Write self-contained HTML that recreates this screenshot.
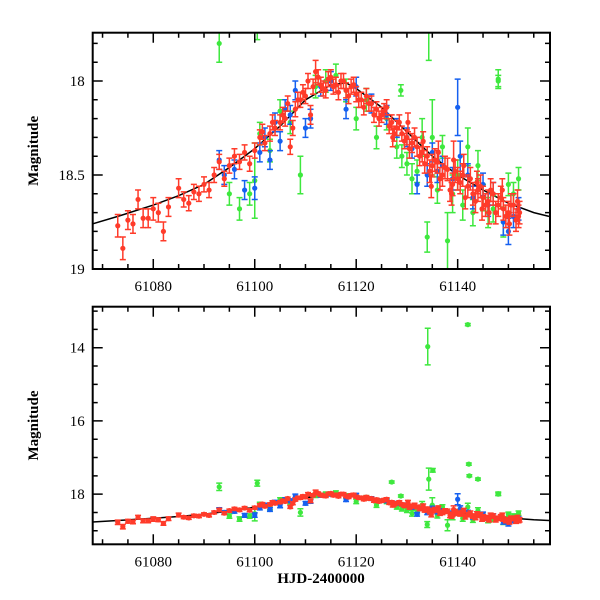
<!DOCTYPE html>
<html><head><meta charset="utf-8"><style>
html,body{margin:0;padding:0;background:#fff;}
svg{display:block;font-family:"Liberation Serif",serif;}
</style></head><body>
<svg id="chart" width="600" height="600" viewBox="0 0 600 600" xmlns="http://www.w3.org/2000/svg"></svg>
<script>
// ---- data ----
const curveT=[61068,61073,61080,61085,61090,61095,61100,61105,61110,61115,61118,61120,61125,61130,61135,61140,61145,61150,61155,61158];
const curveM=[18.76,18.72,18.66,18.61,18.55,18.46,18.36,18.24,18.10,18.02,18.01,18.04,18.14,18.27,18.40,18.50,18.58,18.65,18.70,18.72];
const redT=[61073,61074,61075,61076,61077,61078,61079,61080,61081,61082,61083,61085,61086,61087,61088,61089,61090,61091,61092,61093,61094,61095,61096,61097,61098,61099,61100,61101,61102,61103,61104,61105,61106,61107,61108,61109,61110,61111,61112,61113,61114,61115,61116,61117,61118,61119,61120,61121,61122,61123,61124,61125,61126,61127,61128,61129,61130,61131,61132,61133,61134,61135,61136,61137,61138,61139,61140,61141,61142,61143,61144,61145,61146,61147,61148,61149,61150,61151,61152,
61101.5,61103.5,61105.5,61106.5,61107.5,61108.5,61109.5,61110.5,61111.5,61112.5,61113.5,61114.5,61115.5,61116.5,61117.5,61118.5,61119.5,61120.5,61121.5,61122.5,61123.5,61124.5,61125.5,61126.5,61127.5,61128.5,61129.5,61130.5,61131.5,61132.5,61133.5,61134.5,61135.5,61136.5,61137.5,61138.5,61139.5,61140.5,61141.5,61142.5,61143.5,61144.5,61145.5,61146.5,61147.5,61148.5,61149.5,61150.5,61151.5,61152.2,
61130.2,61133.2,61136.2,61138.8,61141.2,61143.8,61146.2,61148.8,61150.2,61151.8,61144.8,61139.2,61134.8,61127.2];
const redM=[18.77,18.89,18.74,18.76,18.63,18.73,18.73,18.68,18.70,18.80,18.67,18.57,18.63,18.65,18.59,18.60,18.55,18.58,18.50,18.43,18.52,18.45,18.40,18.43,18.38,18.44,18.37,18.30,18.33,18.28,18.25,18.22,18.20,18.35,18.15,18.10,18.08,18.18,17.95,18.02,18.05,17.98,18.02,18.00,18.05,18.03,18.07,18.10,18.08,18.12,18.15,18.18,18.14,18.22,18.25,18.28,18.30,18.33,18.35,18.38,18.40,18.45,18.43,18.50,18.47,18.55,18.52,18.50,18.56,18.60,18.58,18.62,18.64,18.60,18.66,18.68,18.70,18.66,18.72,
18.27,18.22,18.18,18.12,18.25,18.10,18.06,18.00,18.03,17.98,18.04,17.99,18.03,18.06,18.00,18.08,18.02,18.10,18.14,18.12,18.18,18.20,18.16,18.24,18.28,18.22,18.32,18.36,18.30,18.40,18.44,18.48,18.42,18.52,18.46,18.58,18.48,18.54,18.62,18.52,18.64,18.56,18.66,18.58,18.70,18.62,18.72,18.66,18.74,18.70,
18.22,18.32,18.38,18.60,18.45,18.54,18.70,18.58,18.76,18.64,18.68,18.42,18.56,18.30];
const redE=[0.06,0.06,0.05,0.05,0.05,0.05,0.05,0.06,0.05,0.05,0.05,0.05,0.04,0.04,0.04,0.04,0.04,0.04,0.04,0.04,0.04,0.04,0.04,0.04,0.04,0.04,0.04,0.04,0.04,0.04,0.04,0.04,0.04,0.04,0.04,0.04,0.04,0.05,0.06,0.04,0.04,0.04,0.04,0.04,0.04,0.04,0.04,0.04,0.04,0.04,0.04,0.04,0.04,0.04,0.04,0.04,0.04,0.05,0.05,0.05,0.05,0.06,0.06,0.06,0.06,0.06,0.06,0.06,0.06,0.06,0.06,0.06,0.06,0.06,0.06,0.06,0.06,0.06,0.06,
0.04,0.04,0.04,0.04,0.04,0.04,0.04,0.04,0.04,0.04,0.04,0.04,0.04,0.04,0.04,0.04,0.04,0.04,0.04,0.04,0.04,0.04,0.04,0.04,0.04,0.04,0.04,0.05,0.05,0.05,0.05,0.06,0.06,0.06,0.06,0.06,0.06,0.06,0.06,0.06,0.06,0.06,0.06,0.06,0.06,0.06,0.06,0.06,0.06,0.06,
0.05,0.05,0.06,0.06,0.06,0.06,0.06,0.06,0.06,0.06,0.06,0.10,0.06,0.05];
const blueT=[61093,61094,61096,61098,61100,61101,61102,61103,61104,61105,61106,61107,61108,61110,61111,61113,61115,61118,61120,61123,61126,61128,61130,61132,61134,61135,61137,61140,61140.5,61142,61145,61147,61149,61150,61152,
61131,61136,61139,61143,61146,61151];
const blueM=[18.42,18.50,18.47,18.58,18.57,18.38,18.30,18.42,18.22,18.32,18.15,18.18,18.05,18.25,18.20,18.03,18.00,18.15,18.03,18.12,18.18,18.25,18.30,18.55,18.50,18.38,18.45,18.14,18.40,18.50,18.55,18.60,18.75,18.80,18.68,
18.36,18.48,18.52,18.62,18.66,18.72];
const blueE=[0.05,0.05,0.05,0.05,0.06,0.05,0.05,0.05,0.05,0.05,0.05,0.05,0.05,0.05,0.05,0.05,0.05,0.05,0.05,0.05,0.05,0.05,0.05,0.05,0.06,0.05,0.05,0.15,0.08,0.06,0.06,0.06,0.07,0.07,0.06,
0.05,0.06,0.06,0.06,0.06,0.06];
const greenT=[61093,61095,61097,61099,61100,61101,61103,61105,61107,61109,61112,61114,61116,61118,61120,61122,61124,61126,61128,61130,61131,61133,61134,61135,61137,61138,61139,61140,61141,61142,61144,61146,61148,61149,61150,61151,61152,
61100.5,61134.1,61142,61142.2,61142.3,61144,61134.3,61135.1,61127,61148,61128.8,
61129,61132,61136,61143,61145,61147];
const greenM=[17.80,18.60,18.68,18.60,18.53,18.28,18.37,18.16,18.22,18.50,18.03,18.00,17.97,18.05,18.20,18.10,18.30,18.20,18.35,18.44,18.52,18.30,18.83,18.30,18.35,18.85,18.60,18.50,18.66,18.35,18.45,18.70,17.99,18.75,18.55,18.60,18.52,
17.70,13.97,13.37,17.18,17.50,17.59,17.59,17.35,17.67,18.00,18.05,
18.40,18.48,18.58,18.70,18.62,18.68];
const greenE=[0.10,0.06,0.06,0.06,0.20,0.06,0.06,0.06,0.06,0.10,0.06,0.06,0.06,0.06,0.06,0.06,0.06,0.06,0.06,0.06,0.08,0.10,0.08,0.20,0.06,0.15,0.10,0.08,0.08,0.10,0.08,0.08,0.05,0.08,0.06,0.06,0.06,
0.08,0.50,0.03,0.03,0.03,0.03,0.30,0.05,0.03,0.03,0.03,
0.06,0.06,0.07,0.07,0.07,0.07];
const xTicks=[61080,61100,61120,61140];

// ---- drawing ----
const NS="http://www.w3.org/2000/svg";
const svg=document.getElementById('chart');
function mk(tag,attrs,parent){const e=document.createElementNS(NS,tag);for(const k in attrs)e.setAttribute(k,attrs[k]);(parent||svg).appendChild(e);return e;}
const X0=92.7,X1=550,T0=61068.06,T1=61158.2;
function xs(t){return X0+(t-T0)/(T1-T0)*(X1-X0);}
const panels=[
 {name:'top',top:32.7,bot:269,m0:17.743,m1:19.0,maj:0.5,min:0.1,yl:[18,18.5,19],ylab:['18','18.5','19'],r:2.6,cap:3},
 {name:'bottom',top:306.7,bot:544.3,m0:12.88,m1:19.37,maj:2,min:0.5,yl:[14,16,18],ylab:['14','16','18'],r:2.6,cap:3}
];
panels.forEach((p,pi)=>{
 const ys=m=>p.top+(m-p.m0)/(p.m1-p.m0)*(p.bot-p.top);
 const g=mk('g',{});
 
 
 const cp=mk('clipPath',{id:'clip'+pi},g);
 mk('rect',{x:X0,y:p.top,width:X1-X0,height:p.bot-p.top},cp);
 const plot=mk('g',{'clip-path':'url(#clip'+pi+')'},g);
 
 
 let d='';curveT.forEach((t,i)=>{d+=(i?'L':'M')+xs(t).toFixed(1)+','+ys(curveM[i]).toFixed(1);});
 const c=mk('path',{d:d,fill:'none',stroke:'#000','stroke-width':1.5},plot);
 
 
 const series=[['green',greenT,greenM,greenE,'#3ee83e'],['blue',blueT,blueM,blueE,'#1560f0'],['red',redT,redM,redE,'#ff3b2a']];
 series.forEach(s=>{
  const sg=mk('g',{fill:s[4],stroke:s[4],'stroke-width':1.5},plot);
  
  
  s[1].forEach((t,i)=>{
   const x=xs(t),y=ys(s[2][i]),e=s[3][i];
   const ya=ys(s[2][i]-e),yb=ys(s[2][i]+e);
   const pt=mk('g',{},sg);
   
   
   mk('path',{d:`M${x},${ya}L${x},${yb}M${x-p.cap},${ya}L${x+p.cap},${ya}M${x-p.cap},${yb}L${x+p.cap},${yb}`,fill:'none'},pt);
   mk('circle',{cx:x,cy:y,r:p.r,stroke:'none'},pt);
  });
 });
 const fr=mk('rect',{x:X0,y:p.top,width:X1-X0,height:p.bot-p.top,fill:'none',stroke:'#000','stroke-width':2},g);
 
 
 let td='';
 for(let t=61070;t<=61158;t+=5){const x=xs(t),L=(t%20===0)?10:5;td+=`M${x},${p.bot}L${x},${p.bot-L}M${x},${p.top}L${x},${p.top+L}`;}
 const n0=Math.ceil(p.m0/p.min-1e-6),n1=Math.floor(p.m1/p.min+1e-6);
 for(let n=n0;n<=n1;n++){const m=n*p.min,y=ys(m);const isMaj=Math.abs(m/p.maj-Math.round(m/p.maj))<1e-6;const L=isMaj?10:5;td+=`M${X0},${y}L${X0+L},${y}M${X1},${y}L${X1-L},${y}`;}
 const tk=mk('path',{d:td,stroke:'#000','stroke-width':1.5,fill:'none'},g);
 
 
 xTicks.forEach(t=>{const tx=mk('text',{x:xs(t),y:p.bot+22,'text-anchor':'middle','font-size':15},g);tx.textContent=t;
  
  });
 p.yl.forEach((m,i)=>{const tx=mk('text',{x:X0-8,y:ys(m)+5,'text-anchor':'end','font-size':15},g);tx.textContent=p.ylab[i];
  
  });
 const yt=mk('text',{x:0,y:0,transform:`translate(38,${(p.top+p.bot)/2}) rotate(-90)`,'text-anchor':'middle','font-size':15,'font-weight':'bold'},g);
 yt.textContent='Magnitude';
 
 
});
const xt=mk('text',{x:321,y:583,'text-anchor':'middle','font-size':15,'font-weight':'bold'});
xt.textContent='HJD-2400000';


</script>
</body></html>
